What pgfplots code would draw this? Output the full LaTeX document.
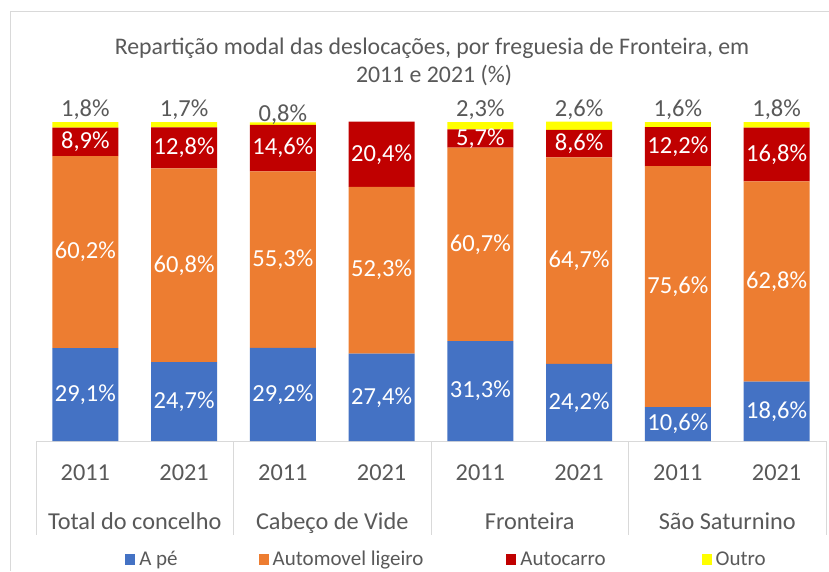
\documentclass[border=0pt]{standalone}
\usepackage{pgfplots}
\pgfplotsset{compat=1.18}
\usepackage{pgfplotstable}
\usepackage{fontspec}
\setmainfont{Carlito}
\definecolor{cA}{HTML}{4472C4}
\definecolor{cB}{HTML}{ED7D31}
\definecolor{cC}{HTML}{C00000}
\definecolor{cD}{HTML}{FFFF00}
\definecolor{txt}{HTML}{595959}
\definecolor{lin}{HTML}{D9D9D9}

\pgfplotstableread{
x a b c d
0 29.1 60.2 8.9 1.8
1 24.7 60.8 12.8 1.7
2 29.2 55.3 14.6 0.8
3 27.4 52.3 20.4 0.0
4 31.3 60.7 5.7 2.3
5 24.2 64.7 8.6 2.6
6 10.6 75.6 12.2 1.6
7 18.6 62.8 16.8 1.8
}\data

\pgfplotsset{
  geom/.style={
    at={(36pt,130pt)}, anchor=south west,
    scale only axis, width=790pt, height=319pt,
    xmin=-0.5, xmax=7.5, ymin=0, ymax=100, clip=false,
  },
  lab/.style={
    draw=none, mark=none, point meta=explicit,
    nodes near coords={\pgfmathprintnumber[fixed,fixed zerofill,precision=1,use comma,assume math mode=true]{\pgfplotspointmeta}\%},
    every node near coord/.append style={anchor=center, text=white, inner sep=0pt, font=\fontsize{24.5}{28}\selectfont},
  },
}

\begin{document}
\begin{tikzpicture}
\useasboundingbox (0,0) rectangle (829pt,571pt);
\fill[white] (0,0) rectangle (829pt,571pt);
\draw[lin, line width=1pt] (10pt,0) -- (10pt,559pt) -- (829pt,559pt);
\node[anchor=base, text=txt, font=\fontsize{23.8}{28}\selectfont] at (432pt,516pt) {Repartição modal das deslocações, por freguesia de Fronteira, em};
\node[anchor=base, text=txt, font=\fontsize{23.8}{28}\selectfont] at (434pt,488pt) {2011 e 2021 (\%)};
\begin{axis}[
  geom,
  ybar stacked, bar width=66pt,
  axis y line=none, axis x line*=bottom,
  x axis line style={draw=lin, line width=1pt, -},
  xtick={0,...,7},
  xticklabels={2011,2021,2011,2021,2011,2021,2011,2021},
  major tick length=0pt,
  xticklabel style={anchor=base, yshift=-39pt, text=txt, font=\fontsize{24.3}{28}\selectfont},
  extra x ticks={0.5,2.5,4.5,6.5},
  extra x tick labels={Total do concelho,Cabeço de Vide,Fronteira,São Saturnino},
  extra x tick style={xticklabel style={yshift=-49pt}},
  legend columns=4,
  legend style={at={(0.519,-0.37)}, anchor=center, draw=none, fill=none,
    font=\fontsize{21}{25}\selectfont, text=txt,
    /tikz/every odd column/.append style={column sep=3pt},
    /tikz/column 2/.append style={column sep=80pt},
    /tikz/column 4/.append style={column sep=82pt},
    /tikz/column 6/.append style={column sep=95pt},
    nodes={inner sep=1pt}},
  legend image code/.code={\fill[#1] (0pt,-6pt) rectangle (10pt,5pt);},
]
\addplot[fill=cA, draw=none] table[x=x,y=a]{\data};
\addlegendentry{A pé}
\addplot[fill=cB, draw=none] table[x=x,y=b]{\data};
\addlegendentry{Automovel ligeiro}
\addplot[fill=cC, draw=none] table[x=x,y=c]{\data};
\addlegendentry{Autocarro}
\addplot[fill=cD, draw=none] table[x=x,y=d]{\data};
\addlegendentry{Outro}
\pgfplotsinvokeforeach{-0.5,1.5,3.5,5.5,7.5}{
  \draw[lin, line width=1pt] (axis cs:#1,0) -- ++(0pt,-94pt);
}
\end{axis}
\begin{axis}[geom, hide axis]
\addplot[lab] table[x=x, y expr={\thisrow{a}/2}, meta=a]{\data};
\addplot[lab] table[x=x, y expr={\thisrow{a}+\thisrow{b}/2}, meta=b]{\data};
\addplot[lab] table[x=x, y expr={\thisrow{a}+\thisrow{b}+\thisrow{c}/2}, meta=c]{\data};
\addplot[lab, skip coords between index={2}{4},
  every node near coord/.append style={anchor=base, yshift=5pt, text=txt}]
  table[x=x, y expr={\thisrow{a}+\thisrow{b}+\thisrow{c}+\thisrow{d}}, meta=d]{\data};
\addplot[lab, skip coords between index={0}{2}, skip coords between index={3}{8},
  every node near coord/.append style={anchor=base, yshift=1pt, text=txt}]
  table[x=x, y expr={\thisrow{a}+\thisrow{b}+\thisrow{c}+\thisrow{d}}, meta=d]{\data};
\end{axis}
\end{tikzpicture}
\end{document}
